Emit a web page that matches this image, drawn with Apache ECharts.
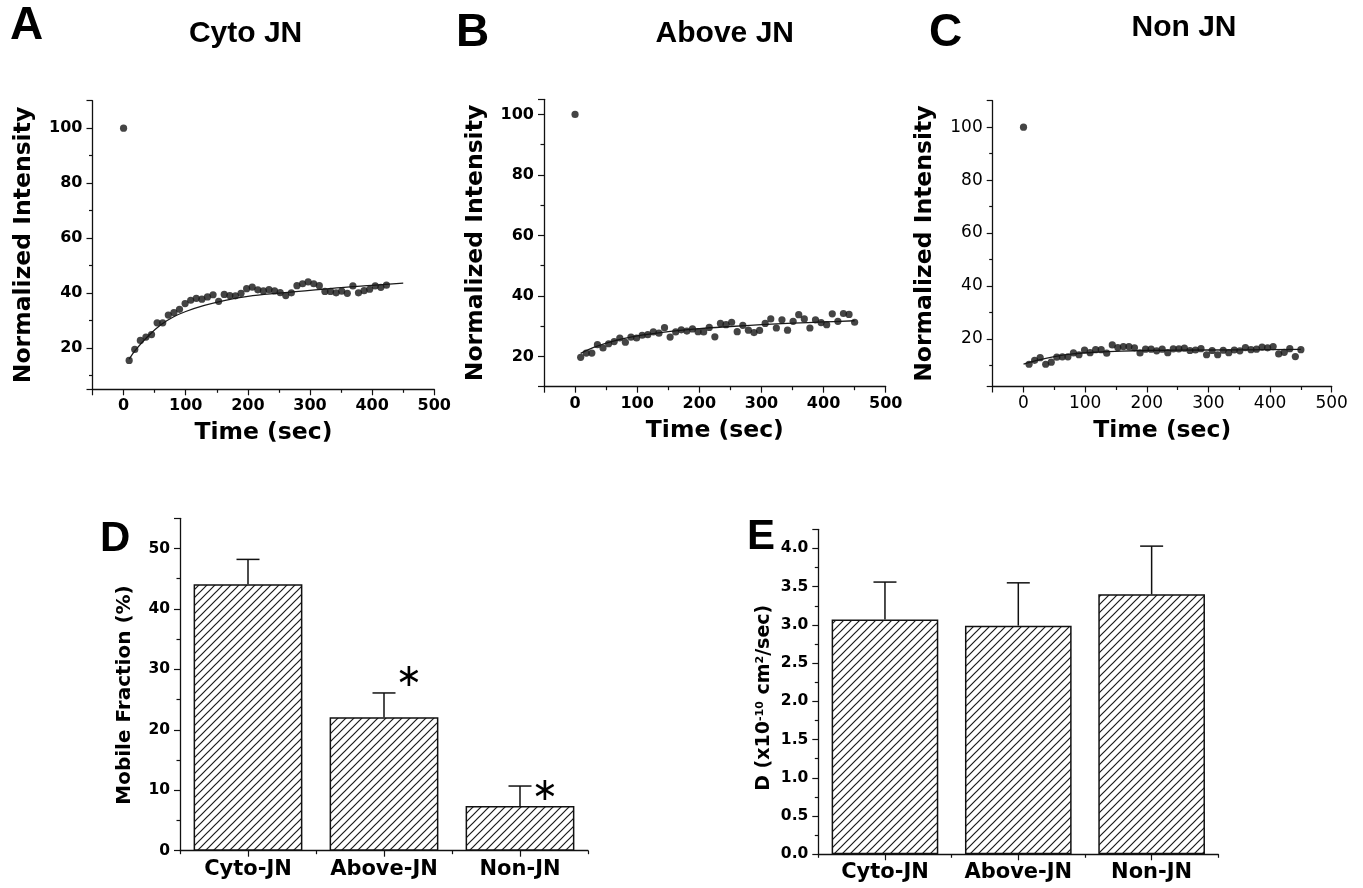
<!DOCTYPE html>
<html><head><meta charset="utf-8">
<script src="https://cdn.jsdelivr.net/npm/echarts@6/dist/echarts.min.js"></script>
<style>html,body{margin:0;padding:0;background:#fff}#c{width:1363px;height:888px}</style>
</head><body><div id="c"></div>
<script>
// ---------- data ----------
const timeA = [0,9,18,27,36,45,54,63,72,81,90,99,108,117,126,135,144,153,162,171,180,189,198,207,216,225,234,243,252,261,270,279,288,297,306,315,324,333,342,351,360,369,378,387,396,405,414,423];
const intensityA = [100,15.5,19.5,22.8,24.0,24.9,29.2,29.2,32.0,32.9,34.1,36.2,37.4,38.1,37.8,38.6,39.4,37.0,39.5,39.1,39.0,39.9,41.6,42.2,41.2,40.8,41.3,40.8,40.2,39.1,40.1,42.7,43.4,44.1,43.4,42.7,40.6,40.6,40.1,40.7,39.9,42.6,40.1,40.9,41.4,42.6,42.1,42.9];
const fitA = [[9,16],[20,19.5],[40,24.5],[60,28.5],[80,31.3],[100,33.3],[130,35.5],[160,37.2],[200,38.8],[250,40.0],[300,41.0],[350,42.0],[400,42.8],[450,43.6]];

const timeB = [0,9,18,27,36,45,54,63,72,81,90,99,108,117,126,135,144,153,162,171,180,189,198,207,216,225,234,243,252,261,270,279,288,297,306,315,324,333,342,351,360,369,378,387,396,405,414,423,432,441,450];
const intensityB = [100,19.7,21.1,21.1,23.9,22.8,24.2,24.9,26.1,24.7,26.4,26.1,27.0,27.2,28.1,27.7,29.5,26.4,28.1,28.8,28.4,29.1,28.2,28.1,29.6,26.5,30.9,30.5,31.3,28.2,30.3,28.7,27.9,28.6,30.9,32.4,29.4,32.1,28.7,31.6,33.8,32.4,29.4,32.1,31.2,30.5,34.1,31.6,34.2,33.9,31.3];
const fitB = [[9,21],[30,23],[60,25],[100,26.8],[150,28.2],[200,29.2],[250,29.9],[300,30.5],[350,31.0],[400,31.4],[450,31.8]];

const timeC = [0,9,18,27,36,45,54,63,72,81,90,99,108,117,126,135,144,153,162,171,180,189,198,207,216,225,234,243,252,261,270,279,288,297,306,315,324,333,342,351,360,369,378,387,396,405,414,423,432,441,450];
const intensityC = [100,10.4,11.9,12.9,10.4,11.2,13.1,13.2,13.2,14.7,14.0,15.8,14.8,15.9,15.9,14.6,17.7,16.7,17.1,17.1,16.6,14.7,16.1,16.1,15.5,16.1,14.8,16.2,16.2,16.5,15.6,15.8,16.3,14.0,15.6,14.0,15.7,14.8,15.8,15.5,16.7,15.9,16.1,16.9,16.6,17.1,14.3,14.9,16.3,13.3,15.9];
const fitC = [[0,10.5],[20,11.8],[50,13.3],[80,14.3],[120,15.0],[160,15.4],[200,15.6],[300,15.8],[450,16.0]];

const groups = ['Cyto-JN','Above-JN','Non-JN'];
const mobileFraction = [44.1, 22.1, 7.4];
const mobileFractionErrTop = [48.2, 26.1, 10.7];
const mobileFractionSig = [null, 28.6, 9.7];
const diffusion = [3.07, 2.99, 3.40];
const diffusionErrTop = [3.56, 3.55, 4.03];

// ---------- styles ----------
const F = '"DejaVu Sans", sans-serif';
const FT = '"Liberation Sans", Arial, sans-serif';
const INK = '#111';

function hatch() {
  const s = 8, c = document.createElement('canvas');
  c.width = s; c.height = s;
  const g = c.getContext('2d');
  g.fillStyle = '#fff'; g.fillRect(0, 0, s, s);
  g.strokeStyle = '#1a1a1a'; g.lineWidth = 1.2;
  g.beginPath();
  g.moveTo(0, s); g.lineTo(s, 0);
  g.moveTo(-2, 2); g.lineTo(2, -2);
  g.moveTo(s - 2, s + 2); g.lineTo(s + 2, s - 2);
  g.stroke();
  return c;
}
const pattern = { image: hatch(), repeat: 'repeat' };

const tickStyle = { color: INK, width: 1.2 };
function timeAxis(gi, bold) {
  return {
    type: 'value', gridIndex: gi, min: -50, max: 500, minInterval: 100, maxInterval: 100,
    name: 'Time (sec)', nameLocation: 'middle', nameGap: 32,
    nameTextStyle: { fontFamily: F, fontWeight: 'bold', fontSize: 23.5, color: '#000' },
    axisLine: { show: true, onZero: false, lineStyle: { color: INK, width: 1.3 } },
    axisTick: { show: true, length: 6, lineStyle: tickStyle },
    minorTick: { show: true, splitNumber: 2, length: 3.5, lineStyle: tickStyle },
    splitLine: { show: false }, minorSplitLine: { show: false },
    axisLabel: { showMinLabel: false, margin: 9, fontFamily: F, fontWeight: bold ? 'bold' : 'normal', fontSize: bold ? 16 : 17, color: '#000' }
  };
}
function intensityAxis(gi, min, max, bold, gap) {
  return {
    type: 'value', gridIndex: gi, min: min, max: max, minInterval: 20, maxInterval: 20,
    name: 'Normalized Intensity', nameLocation: 'middle', nameGap: gap,
    nameTextStyle: { fontFamily: F, fontWeight: 'bold', fontSize: 23.5, color: '#000' },
    axisLine: { show: true, onZero: false, lineStyle: { color: INK, width: 1.3 } },
    axisTick: { show: true, length: 6, lineStyle: tickStyle },
    minorTick: { show: true, splitNumber: 2, length: 3.5, lineStyle: tickStyle },
    splitLine: { show: false }, minorSplitLine: { show: false },
    axisLabel: { showMinLabel: false, showMaxLabel: false, margin: 10, fontFamily: F, fontWeight: bold ? 'bold' : 'normal', fontSize: bold ? 16 : 17, color: '#000' }
  };
}
function catAxes(gi) {
  return [{
    type: 'category', gridIndex: gi, data: groups, position: 'bottom', boundaryGap: true,
    axisLine: { show: true, onZero: false, lineStyle: { color: INK, width: 1.3 } },
    axisTick: { show: true, alignWithLabel: true, length: 6, lineStyle: tickStyle },
    axisLabel: { interval: 0, hideOverlap: false, margin: 8, fontFamily: F, fontWeight: 'bold', fontSize: 21, color: '#000' },
    splitLine: { show: false }
  }, {
    type: 'category', gridIndex: gi, data: groups, position: 'bottom', boundaryGap: true,
    axisLine: { show: false }, axisLabel: { show: false },
    axisTick: { show: true, interval: 0, alignWithLabel: false, length: 3.5, lineStyle: tickStyle },
    splitLine: { show: false }
  }];
}
function barYAxis(gi, max, interval, name, nameStyle, fmt) {
  return {
    type: 'value', gridIndex: gi, min: 0, max: max, interval: interval,
    name: name, nameLocation: 'middle', nameGap: 45, nameTextStyle: nameStyle,
    axisLine: { show: true, onZero: false, lineStyle: { color: INK, width: 1.3 } },
    axisTick: { show: true, length: 6, lineStyle: tickStyle },
    minorTick: { show: true, splitNumber: 2, length: 3.5, lineStyle: tickStyle },
    splitLine: { show: false }, minorSplitLine: { show: false },
    axisLabel: { showMaxLabel: false, margin: 10, fontFamily: F, fontWeight: 'bold', fontSize: 15.5, color: '#000', formatter: fmt }
  };
}

function errorRender(params, api) {
  const x = api.value(0), top = api.value(1), err = api.value(2);
  const p1 = api.coord([x, top]), p2 = api.coord([x, err]);
  const st = { stroke: INK, lineWidth: 1.5 };
  return { type: 'group', children: [
    { type: 'line', shape: { x1: p1[0], y1: p1[1], x2: p2[0], y2: p2[1] }, style: st },
    { type: 'line', shape: { x1: p2[0] - 11.5, y1: p2[1], x2: p2[0] + 11.5, y2: p2[1] }, style: st }
  ]};
}
function sigRender(params, api) {
  const p = api.coord([api.value(0), api.value(1)]);
  return { type: 'text', x: p[0] + 25, y: p[1], style: { text: '∗', fontFamily: F, fontSize: 32, fill: '#000', align: 'center', verticalAlign: 'middle' } };
}

function scatter(gi, t, v) {
  return { type: 'scatter', xAxisIndex: gi, yAxisIndex: gi, data: t.map((x, i) => [x, v[i]]), symbol: 'circle', symbolSize: 7.2, itemStyle: { color: '#151515' }, z: 3 };
}
function fit(gi, pts) {
  return { type: 'line', xAxisIndex: gi, yAxisIndex: gi, data: pts, smooth: 0.4, showSymbol: false, symbol: 'none', lineStyle: { color: '#1a1a1a', width: 1.3 }, z: 2 };
}

const nameBold = { fontFamily: F, fontWeight: 'bold', fontSize: 20, color: '#000', padding: [0, 21, 0, 0] };
const nameE = {
  fontFamily: F, fontWeight: 'bold', fontSize: 19, color: '#000', padding: [0, 12, 0, 0],
  rich: {
    m: { fontFamily: F, fontWeight: 'bold', fontSize: 19, color: '#000' },
    s: { fontFamily: F, fontWeight: 'bold', fontSize: 11, color: '#000', verticalAlign: 'top' }
  }
};

const grids = [
  { left: 92.5, top: 100.7, width: 341.8, height: 288.6 },
  { left: 544, top: 99.3, width: 341.7, height: 287.4 },
  { left: 992.7, top: 100.7, width: 339, height: 285.8 },
  { left: 180, top: 518.3, width: 408, height: 332.4 },
  { left: 818.3, top: 529.3, width: 400, height: 325 }
].map(g => Object.assign({ containLabel: false, outerBoundsMode: 'none' }, g));

const cD = catAxes(3), cE = catAxes(4);

function txt(text, x, y, size, align) {
  return { type: 'text', x: x, y: y, style: { text: text, fontFamily: FT, fontWeight: 'bold', fontSize: size, fill: '#000', align: align, verticalAlign: 'middle' } };
}

const option = {
  animation: false,
  backgroundColor: '#fff',
  textStyle: { fontFamily: F },
  grid: grids,
  xAxis: [timeAxis(0, true), timeAxis(1, true), timeAxis(2, false), cD[0], cE[0], cD[1], cE[1]],
  yAxis: [
    intensityAxis(0, 5, 110, true, 57),
    intensityAxis(1, 10, 105, true, 56),
    intensityAxis(2, 2, 110, false, 56),
    barYAxis(3, 55, 10, 'Mobile Fraction (%)', nameBold, v => String(v)),
    barYAxis(4, 4.25, 0.5, '{m|D (x10}{s|-10}{m| cm}{s|2}{m|/sec)}', nameE, v => v.toFixed(1))
  ],
  graphic: [
    txt('A', 10, 26, 46, 'left'),
    txt('Cyto JN', 245.6, 33.5, 30, 'center'),
    txt('B', 456, 33.5, 46, 'left'),
    txt('Above JN', 724.8, 33.5, 30, 'center'),
    txt('C', 929, 33.5, 46, 'left'),
    txt('Non JN', 1184, 27.5, 30, 'center'),
    txt('D', 100, 539, 42, 'left'),
    txt('E', 747, 537, 42, 'left')
  ],
  series: [
    fit(0, fitA), scatter(0, timeA, intensityA),
    fit(1, fitB), scatter(1, timeB, intensityB),
    fit(2, fitC), scatter(2, timeC, intensityC),
    { type: 'bar', xAxisIndex: 3, yAxisIndex: 3, data: mobileFraction, barWidth: '80%',
      itemStyle: { color: pattern, borderColor: INK, borderWidth: 1.5 } },
    { type: 'custom', xAxisIndex: 3, yAxisIndex: 3, renderItem: errorRender, z: 5,
      data: groups.map((g, i) => [i, mobileFraction[i], mobileFractionErrTop[i]]) },
    { type: 'custom', xAxisIndex: 3, yAxisIndex: 3, renderItem: sigRender, z: 6,
      data: groups.map((g, i) => [i, mobileFractionSig[i]]).filter(d => d[1] != null) },
    { type: 'bar', xAxisIndex: 4, yAxisIndex: 4, data: diffusion, barWidth: '80%',
      itemStyle: { color: pattern, borderColor: INK, borderWidth: 1.5 } },
    { type: 'custom', xAxisIndex: 4, yAxisIndex: 4, renderItem: errorRender, z: 5,
      data: groups.map((g, i) => [i, diffusion[i], diffusionErrTop[i]]) }
  ]
};

const chart = echarts.init(document.getElementById('c'), null, { renderer: 'canvas' });
chart.setOption(option);
</script></body></html>
